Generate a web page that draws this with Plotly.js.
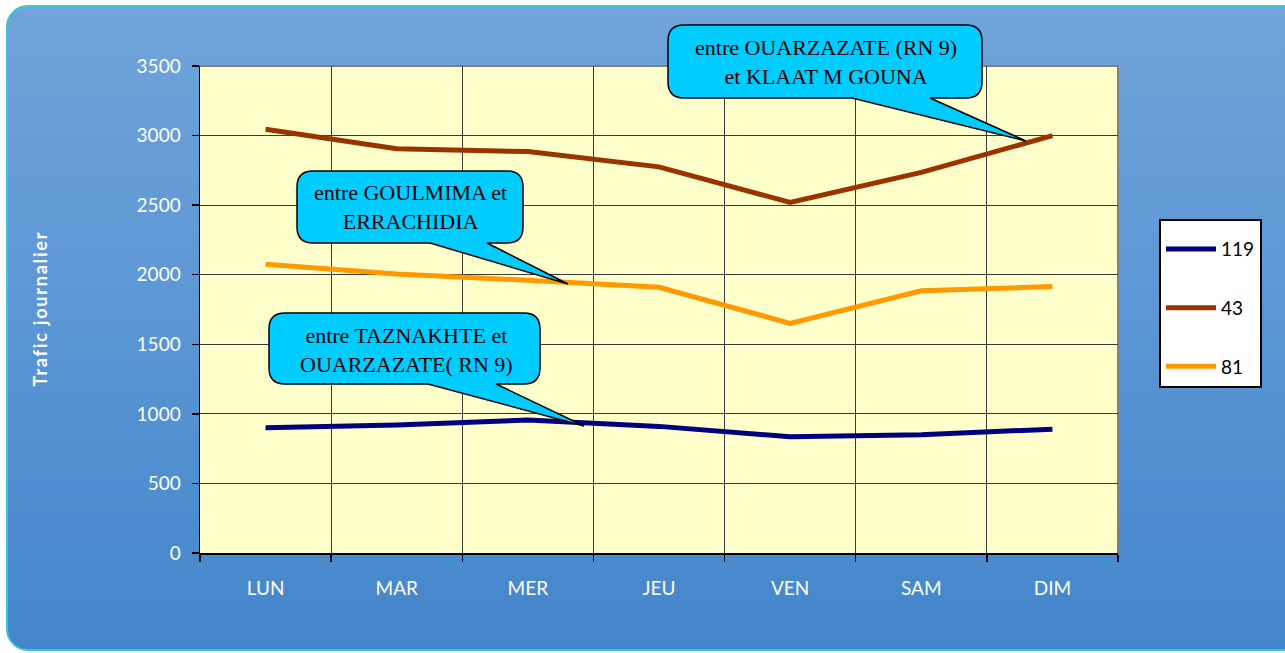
<!DOCTYPE html>
<html>
<head>
<meta charset="utf-8">
<script src="https://cdn.plot.ly/plotly-3.0.1.min.js"></script>
<style>
html,body{margin:0;padding:0;background:#ffffff;width:1285px;height:653px;overflow:hidden;}
#panel{position:absolute;left:6px;top:5px;width:1300px;height:646px;border:2px solid #3ec6c8;border-radius:22px;
background:linear-gradient(to bottom,#70a4da 0%,#5d97d5 45%,#4386ca 100%);box-sizing:border-box;}
#chart{position:absolute;left:0;top:0;width:1285px;height:653px;}
#chart .annotation[data-index="3"] text{letter-spacing:1.8px;}
</style>
</head>
<body>
<div id="panel"></div>
<div id="chart"></div>
<script>
// ---- data ----
const days = ['LUN','MAR','MER','JEU','VEN','SAM','DIM'];
const seriesNames = ['119','43','81'];
const route119 = [900, 920, 955, 910, 835, 850, 890];
const route43  = [3045, 2905, 2885, 2775, 2520, 2735, 3000];
const route81  = [2075, 2005, 1960, 1910, 1650, 1885, 1915];
const yTitle = 'Trafic journalier';
const calloutTexts = [
  'entre OUARZAZATE (RN 9)<br>et KLAAT M GOUNA',
  'entre GOULMIMA et<br>ERRACHIDIA',
  'entre TAZNAKHTE et<br>OUARZAZATE( RN 9)'
];

// ---- layout helpers (pixel -> paper) ----
const L = 200, R = 1118, T = 66, B = 553;
const px = x => (x - L) / (R - L);
const py = y => (B - y) / (B - T);
function P(x, y){ return px(x).toFixed(5) + ',' + py(y).toFixed(5); }
function bubble(x0, y0, x1, y1, r, tl, tr, tipx, tipy){
  return 'M' + P(x0 + r, y0) + ' L' + P(x1 - r, y0) + ' Q' + P(x1, y0) + ' ' + P(x1, y0 + r) +
    ' L' + P(x1, y1 - r) + ' Q' + P(x1, y1) + ' ' + P(x1 - r, y1) +
    ' L' + P(tr, y1) + ' L' + P(tipx, tipy) + ' L' + P(tl, y1) +
    ' L' + P(x0 + r, y1) + ' Q' + P(x0, y1) + ' ' + P(x0, y1 - r) +
    ' L' + P(x0, y0 + r) + ' Q' + P(x0, y0) + ' ' + P(x0 + r, y0) + ' Z';
}
const bubbles = [
  {box:[668, 25, 982, 98], tail:[852, 930, 1026, 141], c:[826, 62]},
  {box:[297, 171, 523, 243], tail:[430, 487, 568, 284], c:[410, 207]},
  {box:[269, 313, 540, 384], tail:[428, 496, 584, 426], c:[406, 350]}
];

const colors = ['#000080', '#993300', '#ff9900'];
const values = [route119, route43, route81];
const traces = values.map((v, i) => ({
  type: 'scatter', mode: 'lines', x: days, y: v, name: seriesNames[i],
  legendgroup: 'g' + i,
  line: {color: colors[i], width: 5},
  hoverinfo: 'x+y+name'
}));

const shapes = [
  {type:'path', xref:'paper', yref:'paper', layer:'below',
   path:'M0,1 L1,1 L1,0', line:{color:'#808080', width:2}}
];
bubbles.forEach(b => {
  shapes.push({type:'path', xref:'paper', yref:'paper', layer:'above',
    path: bubble(b.box[0], b.box[1], b.box[2], b.box[3], 16, b.tail[0], b.tail[1], b.tail[2], b.tail[3]),
    fillcolor:'#00ccff', line:{color:'#000000', width:1.5}});
});

const annotations = bubbles.map((b, i) => ({
  xref:'paper', yref:'paper', x: px(b.c[0]), y: py(b.c[1]), xanchor:'center', yanchor:'middle',
  showarrow:false, text: calloutTexts[i], align:'center',
  font:{family:'"Liberation Serif", "Times New Roman", serif', size:22, color:'#000000'}
}));
annotations.push({
  xref:'paper', yref:'paper', x: px(40), y: py(309), xanchor:'center', yanchor:'middle',
  showarrow:false, textangle:-90, text:'<b>' + yTitle + '</b>',
  font:{family:'Lato, "Open Sans", sans-serif', size:18, color:'#ffffff'}
});

const layout = {
  width:1285, height:653,
  margin:{l:L, r:1285 - R, t:T, b:653 - B, pad:0},
  paper_bgcolor:'rgba(0,0,0,0)',
  plot_bgcolor:'#ffffcc',
  font:{family:'Lato, "Open Sans", sans-serif', size:19, color:'#ffffff'},
  showlegend:true,
  legend:{
    x: px(1159), y: py(219), xanchor:'left', yanchor:'top',
    bgcolor:'#ffffff', bordercolor:'#000000', borderwidth:2,
    font:{family:'Lato, "Open Sans", sans-serif', size:19, color:'#000000'},
    title:{text:' ', font:{size:7}},
    itemwidth:50,
    traceorder:'grouped', tracegroupgap:31
  },
  xaxis:{
    type:'category', range:[-0.5, 6.5], tickson:'boundaries',
    showgrid:true, gridcolor:'#3a3a3a', gridwidth:1,
    showline:true, linecolor:'#000000', linewidth:1.5,
    ticks:'outside', ticklen:7, tickcolor:'#000000', tickwidth:1.5,
    ticklabelstandoff:18,
    tickfont:{family:'Lato, "Open Sans", sans-serif', size:19, color:'#ffffff'},
    zeroline:false, fixedrange:true
  },
  yaxis:{
    range:[0, 3500], dtick:500, tick0:0,
    showgrid:true, gridcolor:'#3a3a3a', gridwidth:1,
    showline:true, linecolor:'#000000', linewidth:1.5,
    ticks:'outside', ticklen:7, tickcolor:'#000000', tickwidth:1.5,
    ticklabelstandoff:7,
    tickfont:{family:'Lato, "Open Sans", sans-serif', size:19, color:'#ffffff'},
    zeroline:false, fixedrange:true
  },
  shapes: shapes,
  annotations: annotations
};

Plotly.newPlot('chart', traces, layout, {displayModeBar:false, staticPlot:true});
</script>
</body>
</html>
